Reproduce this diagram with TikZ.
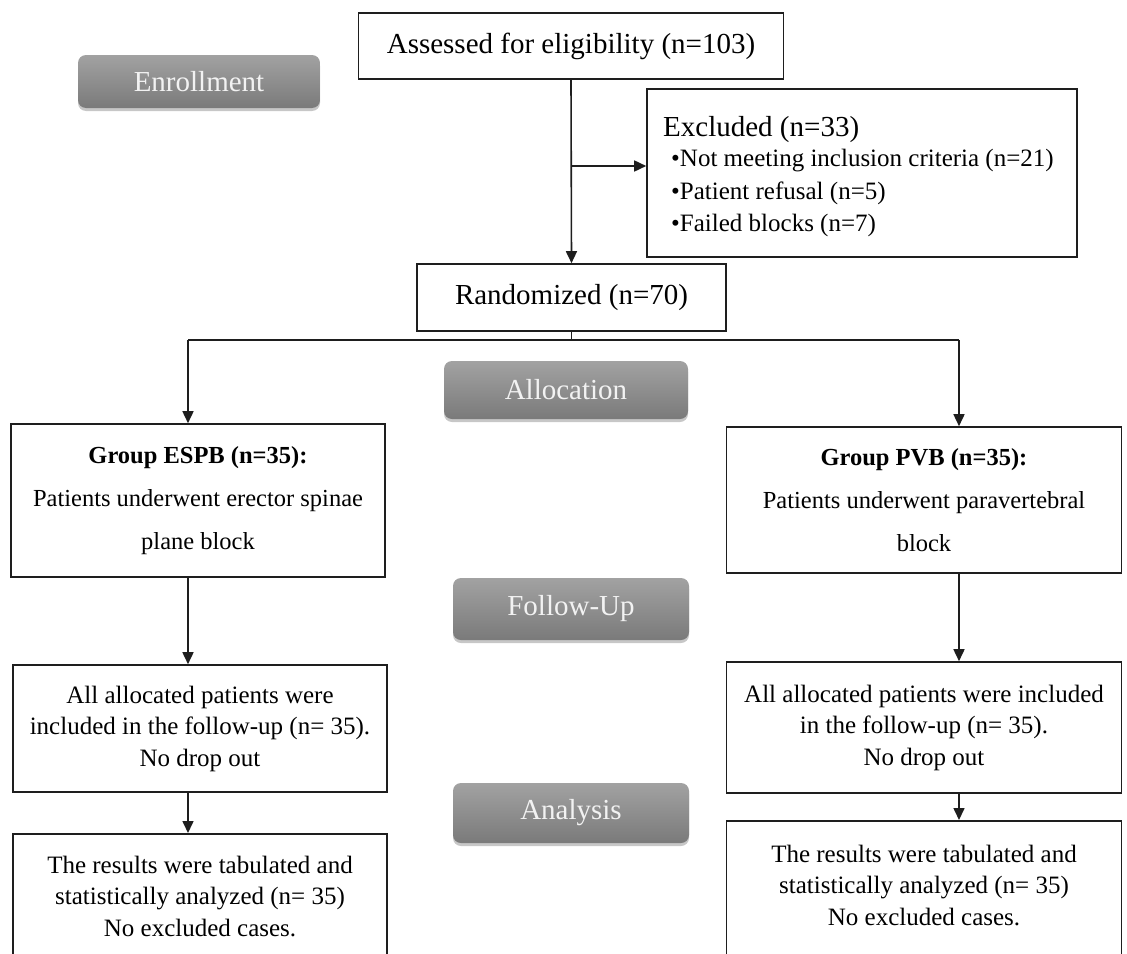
\documentclass[tikz,border=0pt]{standalone}
\usepackage{fontspec}
\setmainfont{Liberation Serif}
\usetikzlibrary{arrows.meta,shadows}
\definecolor{btntop}{RGB}{162,162,162}
\definecolor{btnbot}{RGB}{122,122,122}
\definecolor{ink}{RGB}{30,30,30}
\tikzset{
  box/.style={draw=ink, line width=1.6pt, rectangle, inner sep=0pt, align=center},
  btn/.style={rounded corners=8pt, inner sep=0pt, top color=btntop, bottom color=btnbot,
    text=white!95!black, font=\fontsize{29}{34}\selectfont,
    drop shadow={shadow xshift=0pt, shadow yshift=-3pt, fill=black, opacity=0.22}},
  conn/.style={draw=ink, line width=1.6pt},
  arr/.style={conn, -{Triangle[length=12pt,width=11pt]}},
  big/.style={font=\fontsize{29}{34}\selectfont},
  grp/.style={font=\fontsize{24.5}{43}\selectfont},
  fol/.style={font=\fontsize{25}{31.5}\selectfont},
  exc/.style={font=\fontsize{25}{30}\selectfont, anchor=base west, inner sep=0pt},
}
\begin{document}
\begin{tikzpicture}[x=1pt,y=-1pt]
\fill[white] (0,0) rectangle (1127,953);
\useasboundingbox (0,0) rectangle (1127,953);

% stage buttons
\node[btn, minimum width=242, minimum height=53] (enr) at (199,81.5) {Enrollment};
\node[btn, minimum width=244, minimum height=58] (alloc) at (566,390) {Allocation};
\node[btn, minimum width=236, minimum height=62] (fup) at (571,609) {Follow-Up};
\node[btn, minimum width=236, minimum height=60] (ana) at (571,813) {Analysis};

% boxes
\node[box, big, minimum width=425, minimum height=66] (elig) at (571,46) {Assessed for eligibility (n=103)};
\node[box, minimum width=430, minimum height=168] (excl) at (862,173) {};
\node[exc, font=\fontsize{29}{34}\selectfont] (exct) at (663,136) {Excluded (n=33)};
\node[exc] (exc1) at (671,166) {\textbullet Not meeting inclusion criteria (n=21)};
\node[exc] (exc2) at (671,199) {\textbullet Patient refusal (n=5)};
\node[exc] (exc3) at (671,231) {\textbullet Failed blocks (n=7)};
\node[box, big, minimum width=309, minimum height=67] (rand) at (571.5,297.5) {Randomized (n=70)};

\node[box, grp, minimum width=374, minimum height=153] (espb) at (198,500.5)
  {\textbf{Group ESPB (n=35):}\\Patients underwent erector spinae\\plane block};
\node[box, grp, minimum width=395, minimum height=146] (pvb) at (924,500)
  {\textbf{Group PVB (n=35):}\\Patients underwent paravertebral\\block};

\node[box, fol, minimum width=374, minimum height=127] (fl) at (200,728.5)
  {All allocated patients were\\included in the follow-up (n= 35).\\No drop out};
\node[box, fol, minimum width=395, minimum height=131] (fr) at (924,727.5)
  {All allocated patients were included\\in the follow-up (n= 35).\\No drop out};

\node[box, anchor=north, minimum width=374, minimum height=150] (rl) at (200,833) {};
\node[fol, align=center, inner sep=0pt] (rlt) at (200,896)
  {The results were tabulated and\\statistically analyzed (n= 35)\\No excluded cases.};
\node[box, anchor=north, minimum width=395, minimum height=150] (rr) at (924,820) {};
\node[fol, align=center, inner sep=0pt] (rrt) at (924,885)
  {The results were tabulated and\\statistically analyzed (n= 35)\\No excluded cases.};

% connectors
\coordinate (lx) at (188,0);
\coordinate (rx) at (959,0);
\coordinate (bar) at (0,340);
\coordinate (exy) at (0,166);
\draw[arr] (elig.south) -- (rand.north);
\draw[arr] (elig.south |- exy) -- (excl.west |- exy);
\draw[conn] (rand.south) -- (rand.south |- bar);
\draw[conn] (lx |- bar) -- (rx |- bar);
\draw[arr] (lx |- bar) -- (lx |- espb.north);
\draw[arr] (rx |- bar) -- (rx |- pvb.north);
\draw[arr] (lx |- espb.south) -- (lx |- fl.north);
\draw[arr] (rx |- pvb.south) -- (rx |- fr.north);
\draw[arr] (lx |- fl.south) -- (lx |- rl.north);
\draw[arr] (rx |- fr.south) -- (rx |- rr.north);
\end{tikzpicture}
\end{document}
